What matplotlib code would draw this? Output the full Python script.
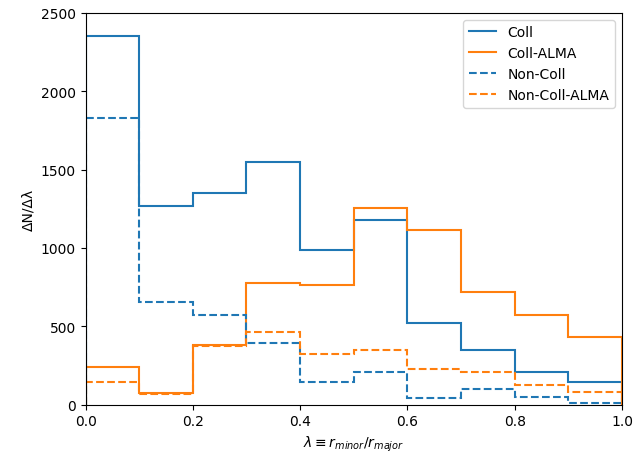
import numpy as np
import matplotlib
matplotlib.use("Agg")
import matplotlib.pyplot as plt
from matplotlib.lines import Line2D

bin_edges = [0.0, 0.1, 0.2, 0.3, 0.4, 0.5, 0.6, 0.7, 0.8, 0.9, 1.0]
coll = [2355, 1268, 1348, 1548, 987, 1180, 524, 352, 207, 148]
coll_alma = [242, 75, 380, 774, 765, 1252, 1113, 716, 571, 435]
noncoll = [1830, 655, 573, 396, 146, 207, 40, 99, 50, 14]
noncoll_alma = [146, 71, 372, 463, 324, 346, 227, 210, 126, 78]

series = [
    ("Coll", coll, "#1f77b4", "-"),
    ("Coll-ALMA", coll_alma, "#ff7f0e", "-"),
    ("Non-Coll", noncoll, "#1f77b4", "--"),
    ("Non-Coll-ALMA", noncoll_alma, "#ff7f0e", "--"),
]

fig = plt.figure(figsize=(6.34, 4.60), dpi=100)
ax = fig.add_axes([0.135, 0.118, 0.846, 0.852])
centers = 0.5 * (np.array(bin_edges[:-1]) + np.array(bin_edges[1:]))
handles = []
for label, vals, color, ls in series:
    ax.hist(centers, bins=bin_edges, weights=vals, histtype="step",
            color=color, linestyle=ls, linewidth=1.5)
    handles.append(Line2D([], [], color=color, linestyle=ls, linewidth=1.5, label=label))

ax.set_xlim(0, 1.0)
ax.set_ylim(0, 2500)
ax.set_xlabel(r"$\lambda \equiv r_{minor}/r_{major}$")
ax.set_ylabel("ΔN/Δλ")
ax.legend(handles=handles, loc="upper right")
fig.savefig("out.png", dpi=100)
